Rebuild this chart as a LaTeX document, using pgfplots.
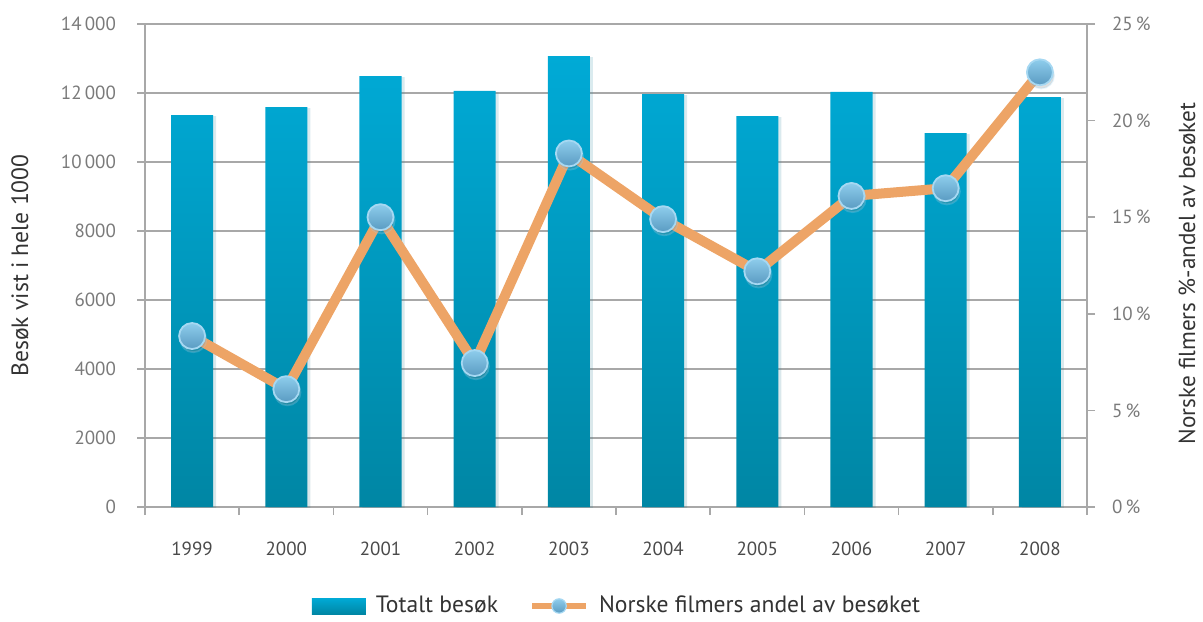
\documentclass[border=0pt]{standalone}
\usepackage{fontspec}
\setmainfont{PT Sans}
\usepackage{pgfplots}
\pgfplotsset{compat=1.18}
\usetikzlibrary{shadows}
\definecolor{barTop}{HTML}{00AAD6}
\definecolor{barBot}{HTML}{0086A4}
\definecolor{lineC}{HTML}{EDA466}
\definecolor{markTop}{HTML}{8ECDEC}
\definecolor{markBot}{HTML}{5A9BC2}
\definecolor{markEdge}{HTML}{A6D8F2}
\definecolor{gridc}{HTML}{A8A8A8}
\definecolor{tickc}{HTML}{7A7A7A}
\definecolor{yearc}{HTML}{4A4A4A}
\definecolor{labc}{HTML}{333333}
\begin{document}
\begin{tikzpicture}
\begin{axis}[
  width=471pt, height=241.5pt, scale only axis,
  xmin=-0.5, xmax=9.5, ymin=0, ymax=14000,
  ybar, bar width=0.446,
  scaled y ticks=false,
  axis x line*=bottom, axis y line*=left,
  axis line style={draw=gridc, line width=0.8pt, -},
  tick align=outside, major tick length=4pt,
  tick style={draw=gridc, line width=0.8pt},
  ytick={0,2000,4000,6000,8000,10000,12000,14000},
  yticklabels={0,2000,4000,6000,8000,10\,000,12\,000,14\,000},
  yticklabel style={font=\fontsize{9.5}{11}\selectfont, text=tickc, xshift=-7pt},
  ymajorgrids, grid style={draw=gridc, line width=0.8pt},
  xtick={-0.5,0.5,1.5,2.5,3.5,4.5,5.5,6.5,7.5,8.5,9.5},
  xticklabels={1999,2000,2001,2002,2003,2004,2005,2006,2007,2008,},
  xticklabel style={font=\fontsize{9.5}{11}\selectfont, text=yearc, xshift=23.55pt, yshift=-10pt},
  ylabel={Besøk vist i hele 1000},
  every axis y label/.style={at={([xshift=-62.5pt]axis description cs:0,0.5)}, rotate=90, anchor=center, font=\fontsize{11.8}{13}\selectfont, text=labc},
]
\addplot[draw=none, top color=barTop, bottom color=barBot,
  drop shadow={opacity=0.1, shadow xshift=1.5pt, shadow yshift=-0.5pt}] coordinates {
(0,11360) (1,11590) (2,12490) (3,12060) (4,13070) (5,11970) (6,11330) (7,12030) (8,10840) (9,11880)};
\end{axis}
\begin{axis}[
  width=471pt, height=241.5pt, scale only axis,
  xmin=-0.5, xmax=9.5, ymin=0, ymax=25,
  axis x line=none, axis y line*=right,
  axis line style={draw=gridc, line width=0.8pt, -},
  tick align=outside, major tick length=4pt,
  tick style={draw=gridc, line width=0.8pt},
  ytick={0,5,10,15,20,25},
  yticklabels={0\,\%,5\,\%,10\,\%,15\,\%,20\,\%,25\,\%},
  yticklabel style={font=\fontsize{9.5}{11}\selectfont, text=tickc, xshift=5pt},
  ylabel={Norske filmers \%-andel av besøket},
  every axis y label/.style={at={([xshift=50pt,yshift=-4pt]axis description cs:1,0.5)}, rotate=90, anchor=center, font=\fontsize{11.6}{13}\selectfont, text=labc},
  legend columns=2,
  legend style={at={([xshift=1pt,yshift=-49.5pt]axis description cs:0.5,0)}, anchor=center, draw=none, fill=none,
    font=\fontsize{11.8}{13}\selectfont, text=labc,
    /tikz/every odd column/.append style={column sep=3pt},
    /tikz/every even column/.append style={column sep=13.5pt}},
]
\addlegendimage{legend image code/.code={\fill[draw=none, top color=barTop, bottom color=barBot] (0pt,-4pt) rectangle (27pt,4pt);}}
\addlegendentry{Totalt besøk}
\addplot[color=lineC, line width=5pt, line join=round, mark=none,
  nodes near coords={},
  every node near coord/.append style={anchor=center, circle, minimum size=13pt, inner sep=0pt,
     top color=markTop, bottom color=markBot, draw=markEdge, line width=0.9pt,
     drop shadow={opacity=0.25, shadow xshift=0.6pt, shadow yshift=-1.6pt}},
  legend image code/.code={\draw[lineC, line width=3pt] (0pt,0pt) -- (27pt,0pt);
     \draw[markEdge, line width=0.6pt, top color=markTop, bottom color=markBot] (13.5pt,0pt) circle (3.6pt);}
] coordinates {
(0,8.85) (1,6.1) (2,15.0) (3,7.45) (4,18.3) (5,14.9) (6,12.2) (7,16.1) (8,16.5) (9,22.5)};
\addlegendentry{Norske filmers andel av besøket}
\end{axis}
\pgfresetboundingbox
\path (-72.5pt,-57pt) rectangle (529pt,253.5pt);
\end{tikzpicture}
\end{document}
